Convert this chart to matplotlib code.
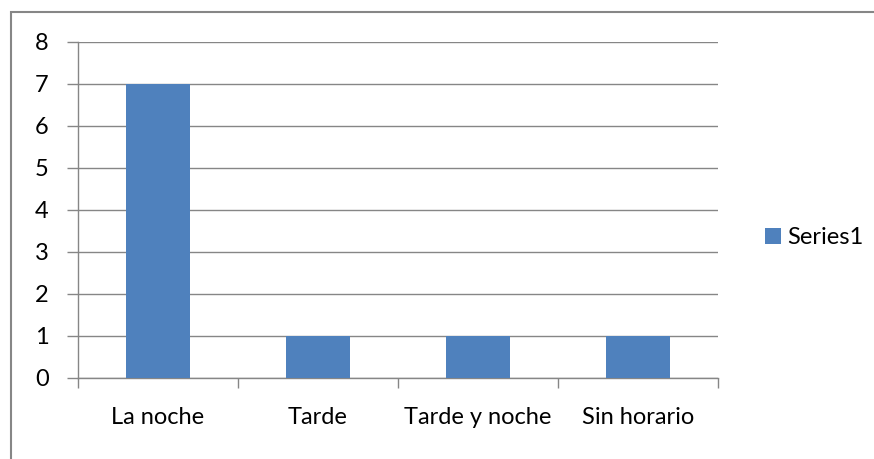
import matplotlib
matplotlib.use('Agg')
import matplotlib.pyplot as plt
from matplotlib.patches import Rectangle
import numpy as np

categories = ['La noche', 'Tarde', 'Tarde y noche', 'Sin horario']
values = [7, 1, 1, 1]
series_name = 'Series1'

plt.rcParams['font.family'] = ['Lato', 'DejaVu Sans']

W, H = 874, 459
fig = plt.figure(figsize=(W / 100, H / 100), dpi=100)
ax = fig.add_axes([78 / W, 1 - 378 / H, (718 - 78) / W, (378 - 42) / H])

gray = '#868686'
fs = 17
x = np.arange(len(categories))
ax.bar(x, values, width=0.4, color='#4F81BD', label=series_name, zorder=3)

ax.set_xlim(-0.5, len(categories) - 0.5)
ax.set_ylim(0, 8)
ax.set_yticks(range(0, 9))
ax.set_xticks(x)
ax.set_xticklabels(categories)
ax.set_xticks(np.arange(-0.5, len(categories)), minor=True)
ax.tick_params(axis='x', which='major', length=0, pad=21, labelsize=fs, colors='black')
ax.tick_params(axis='x', which='minor', length=7, color=gray, width=1)
ax.tick_params(axis='y', length=8, color=gray, width=1, pad=13, labelsize=fs)

ax.grid(axis='y', color=gray, linewidth=1, zorder=0)
for side in ['top', 'right']:
    ax.spines[side].set_visible(False)
for side in ['left', 'bottom']:
    ax.spines[side].set_color(gray)
    ax.spines[side].set_linewidth(1)

handles, labels = ax.get_legend_handles_labels()
fig.legend(handles, labels, loc='center left', bbox_to_anchor=(744 / W, 1 - 238 / H),
           frameon=False, fontsize=fs, handlelength=0.65, handleheight=0.65,
           handletextpad=0.3)

# outer chart border
fig.patches.append(Rectangle((10.5 / W, -0.05), 1.1, 1 - 11.5 / H + 0.05,
                             transform=fig.transFigure, fill=False,
                             edgecolor=gray, linewidth=1.5))

fig.savefig('out.png', dpi=100)
